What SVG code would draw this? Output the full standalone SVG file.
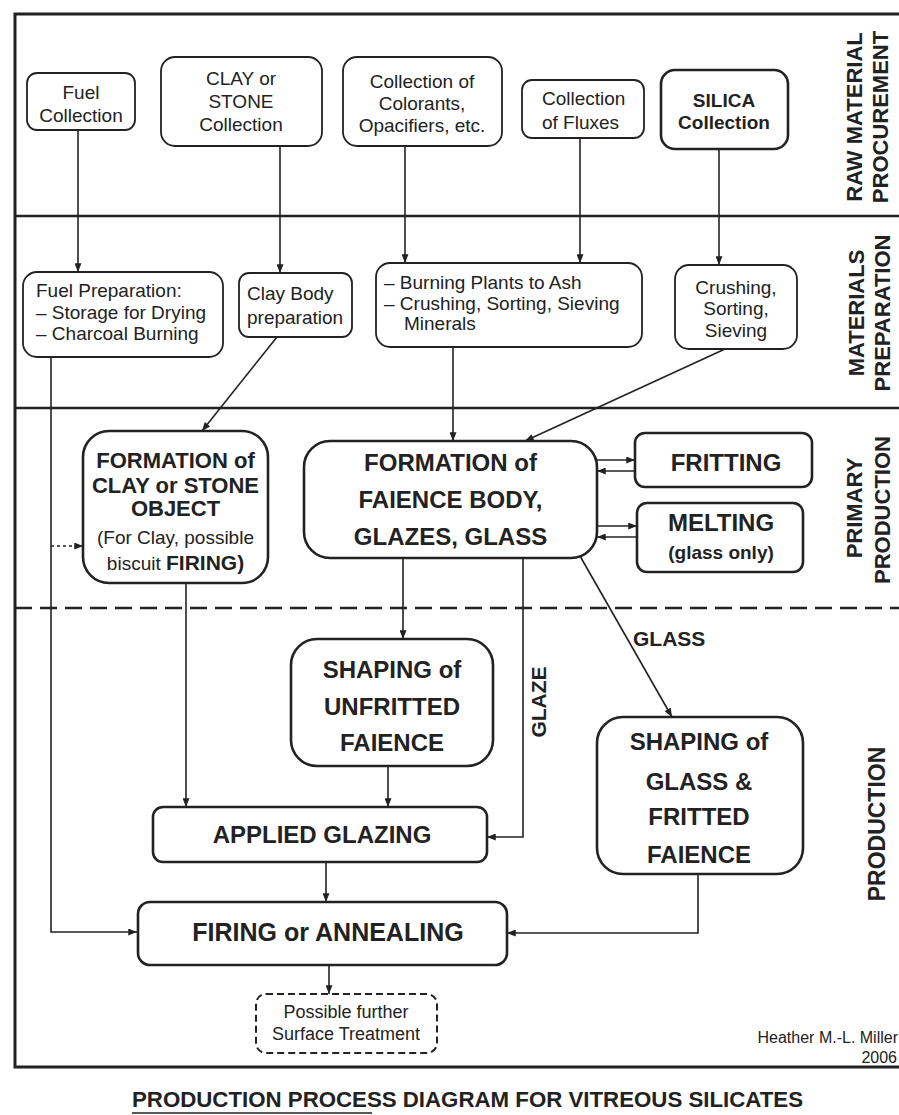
<svg xmlns="http://www.w3.org/2000/svg" width="899" height="1115" viewBox="0 0 899 1115">
<style>
.bg{fill:#fff}
.frame{fill:none;stroke:#222;stroke-width:3}
.sep{stroke:#222;stroke-width:2.5}
.dsep{stroke:#222;stroke-width:2.5;stroke-dasharray:17 8}
.b1{fill:#fff;stroke:#222;stroke-width:1.8}
.b2{fill:#fff;stroke:#222;stroke-width:2.6}
.bd{fill:#fff;stroke:#222;stroke-width:2;stroke-dasharray:7 4}
.c{fill:none;stroke:#222;stroke-width:1.6}
.cd{fill:none;stroke:#222;stroke-width:1.6;stroke-dasharray:3 3}
text{font-family:"Liberation Sans",Arial,sans-serif;fill:#222}
.r{font-size:19px}
.m{text-anchor:middle}
.bb{font-weight:bold}
.side{font-size:22px;font-weight:bold;text-anchor:middle}
</style>
<defs>
<marker id="ah" viewBox="0 0 10 8" refX="10" refY="4" markerWidth="9" markerHeight="7" markerUnits="userSpaceOnUse" orient="auto">
<path d="M0,0 L10,4 L0,8 z" fill="#222"/>
</marker>
</defs>
<rect class="bg" x="0" y="0" width="899" height="1115"/>
<rect class="frame" x="15" y="14" width="900" height="1053"/>
<line class="sep" x1="15" y1="216" x2="899" y2="216"/>
<line class="sep" x1="15" y1="408" x2="899" y2="408"/>
<line class="dsep" x1="15" y1="608" x2="899" y2="608"/>

<g id="labels-side">
<text class="side" transform="translate(862,117) rotate(-90)">RAW MATERIAL</text>
<text class="side" transform="translate(888,117) rotate(-90)">PROCUREMENT</text>
<text class="side" transform="translate(864,313) rotate(-90)">MATERIALS</text>
<text class="side" transform="translate(890,313) rotate(-90)">PREPARATION</text>
<text class="side" transform="translate(862,508) rotate(-90)">PRIMARY</text>
<text class="side" transform="translate(890,510) rotate(-90)">PRODUCTION</text>
<text class="side" style="font-size:23px" transform="translate(885,824) rotate(-90)">PRODUCTION</text>
</g>

<g id="connectors">
<line class="c" x1="78" y1="130" x2="78" y2="272" marker-end="url(#ah)"/>
<line class="c" x1="280" y1="146" x2="280" y2="273" marker-end="url(#ah)"/>
<line class="c" x1="405" y1="146" x2="405" y2="263" marker-end="url(#ah)"/>
<line class="c" x1="580" y1="138" x2="580" y2="263" marker-end="url(#ah)"/>
<line class="c" x1="719" y1="149" x2="719" y2="265" marker-end="url(#ah)"/>
<path class="c" d="M51,357 V932 H137" marker-end="url(#ah)"/>
<line class="cd" x1="51" y1="546" x2="83" y2="546" marker-end="url(#ah)"/>
<line class="c" x1="277" y1="337" x2="202" y2="431" marker-end="url(#ah)"/>
<line class="c" x1="453" y1="347" x2="453" y2="441" marker-end="url(#ah)"/>
<line class="c" x1="725" y1="349" x2="525" y2="441" marker-end="url(#ah)"/>
<line class="c" x1="597" y1="460" x2="635" y2="460" marker-end="url(#ah)"/>
<line class="c" x1="635" y1="471" x2="597" y2="471" marker-end="url(#ah)"/>
<line class="c" x1="597" y1="526" x2="637" y2="526" marker-end="url(#ah)"/>
<line class="c" x1="637" y1="537" x2="597" y2="537" marker-end="url(#ah)"/>
<line class="c" x1="186" y1="583" x2="186" y2="807" marker-end="url(#ah)"/>
<line class="c" x1="403" y1="558" x2="403" y2="639" marker-end="url(#ah)"/>
<path class="c" d="M523,558 V837 H487" marker-end="url(#ah)"/>
<line class="c" x1="580" y1="556" x2="672" y2="717" marker-end="url(#ah)"/>
<line class="c" x1="388" y1="766" x2="388" y2="807" marker-end="url(#ah)"/>
<line class="c" x1="326" y1="862" x2="326" y2="902" marker-end="url(#ah)"/>
<path class="c" d="M698,874 V933 H507" marker-end="url(#ah)"/>
<line class="c" x1="329" y1="965" x2="329" y2="994" marker-end="url(#ah)"/>
<text class="bb" style="font-size:21px" text-anchor="middle" transform="translate(546,702) rotate(-90)">GLAZE</text>
<text class="bb" style="font-size:21px" x="633" y="646">GLASS</text>
</g>

<g id="n-fuel-collection">
<rect class="b1" x="27" y="73" width="108" height="57" rx="10"/>
<text class="r m" x="81" y="99">Fuel</text>
<text class="r m" x="81" y="122">Collection</text>
</g>
<g id="n-clay-collection">
<rect class="b1" x="161" y="57" width="161" height="89" rx="14"/>
<text class="r m" x="241" y="85">CLAY or</text>
<text class="r m" x="241" y="108">STONE</text>
<text class="r m" x="241" y="131">Collection</text>
</g>
<g id="n-colorants-collection">
<rect class="b1" x="343" y="57" width="159" height="89" rx="14"/>
<text class="r m" x="422" y="88">Collection of</text>
<text class="r m" x="422" y="110">Colorants,</text>
<text class="r m" x="422" y="132">Opacifiers, etc.</text>
</g>
<g id="n-flux-collection">
<rect class="b1" x="522" y="80" width="122" height="58" rx="10"/>
<text class="r" x="542" y="105">Collection</text>
<text class="r" x="542" y="129">of Fluxes</text>
</g>
<g id="n-silica-collection">
<rect class="b2" x="661" y="70" width="127" height="79" rx="14"/>
<text class="r m bb" x="724" y="107">SILICA</text>
<text class="r m bb" x="724" y="129">Collection</text>
</g>

<g id="n-fuel-prep">
<rect class="b1" x="23" y="272" width="200" height="85" rx="14"/>
<text class="r" x="36" y="297">Fuel Preparation:</text>
<text class="r" x="36" y="319">– Storage for Drying</text>
<text class="r" x="36" y="340">– Charcoal Burning</text>
</g>
<g id="n-clay-body">
<rect class="b1" x="239" y="273" width="113" height="64" rx="10"/>
<text class="r" x="247" y="300">Clay Body</text>
<text class="r" x="247" y="324">preparation</text>
</g>
<g id="n-burning">
<rect class="b1" x="376" y="263" width="266" height="84" rx="14"/>
<text class="r" x="384" y="289">– Burning Plants to Ash</text>
<text class="r" x="384" y="310">– Crushing, Sorting, Sieving</text>
<text class="r" x="404" y="330">Minerals</text>
</g>
<g id="n-crushing">
<rect class="b1" x="675" y="265" width="122" height="84" rx="14"/>
<text class="r m" x="736" y="294">Crushing,</text>
<text class="r m" x="736" y="315">Sorting,</text>
<text class="r m" x="736" y="337">Sieving</text>
</g>

<g id="n-formation-clay">
<rect class="b2" x="83" y="431" width="185" height="152" rx="26"/>
<text class="m bb" style="font-size:22px" x="175.5" y="468">FORMATION of</text>
<text class="m bb" style="font-size:22px" x="175.5" y="493">CLAY or STONE</text>
<text class="m bb" style="font-size:22px" x="175.5" y="516">OBJECT</text>
<text class="r m" x="175.5" y="544">(For Clay, possible</text>
<text class="r m" x="175.5" y="570">biscuit <tspan class="bb" style="font-size:21px">FIRING)</tspan></text>
</g>
<g id="n-formation-faience">
<rect class="b2" x="304" y="441" width="293" height="117" rx="26"/>
<text class="m bb" style="font-size:24px" x="450.5" y="471">FORMATION of</text>
<text class="m bb" style="font-size:24px" x="450.5" y="508">FAIENCE BODY,</text>
<text class="m bb" style="font-size:24px" x="450.5" y="545">GLAZES, GLASS</text>
</g>
<g id="n-fritting">
<rect class="b2" x="635" y="433" width="177" height="54" rx="10"/>
<text class="m bb" style="font-size:24px" x="726" y="471">FRITTING</text>
</g>
<g id="n-melting">
<rect class="b2" x="637" y="503" width="166" height="69" rx="10"/>
<text class="m bb" style="font-size:24px" x="721" y="531">MELTING</text>
<text class="m bb" style="font-size:19px" x="721" y="559">(glass only)</text>
</g>

<g id="n-shaping-unfritted">
<rect class="b2" x="291" y="639" width="202" height="127" rx="26"/>
<text class="m bb" style="font-size:24px" x="392" y="678">SHAPING of</text>
<text class="m bb" style="font-size:24px" x="392" y="715">UNFRITTED</text>
<text class="m bb" style="font-size:24px" x="392" y="751">FAIENCE</text>
</g>
<g id="n-shaping-glass">
<rect class="b2" x="597" y="717" width="206" height="157" rx="26"/>
<text class="m bb" style="font-size:24px" x="699" y="750">SHAPING of</text>
<text class="m bb" style="font-size:24px" x="699" y="790">GLASS &amp;</text>
<text class="m bb" style="font-size:24px" x="699" y="825">FRITTED</text>
<text class="m bb" style="font-size:24px" x="699" y="863">FAIENCE</text>
</g>
<g id="n-applied-glazing">
<rect class="b2" x="153" y="807" width="334" height="55" rx="10"/>
<text class="m bb" style="font-size:24px" x="322" y="843">APPLIED GLAZING</text>
</g>
<g id="n-firing">
<rect class="b2" x="138" y="902" width="369" height="63" rx="12"/>
<text class="m bb" style="font-size:25px" x="328" y="941">FIRING or ANNEALING</text>
</g>
<g id="n-surface">
<rect class="bd" x="256" y="994" width="181" height="59" rx="10"/>
<text class="m" style="font-size:18px" x="346" y="1018">Possible further</text>
<text class="m" style="font-size:18px" x="346" y="1040">Surface Treatment</text>
</g>

<g id="credits">
<text style="font-size:16px" text-anchor="end" x="898" y="1043">Heather M.-L. Miller</text>
<text style="font-size:16px" text-anchor="end" x="897" y="1063">2006</text>
<text class="bb" style="font-size:22px" x="132" y="1107" textLength="671" lengthAdjust="spacingAndGlyphs">PRODUCTION PROCESS DIAGRAM FOR VITREOUS SILICATES</text>
<line x1="132" y1="1113" x2="372" y2="1113" stroke="#222" stroke-width="1.5"/>
</g>
</svg>
